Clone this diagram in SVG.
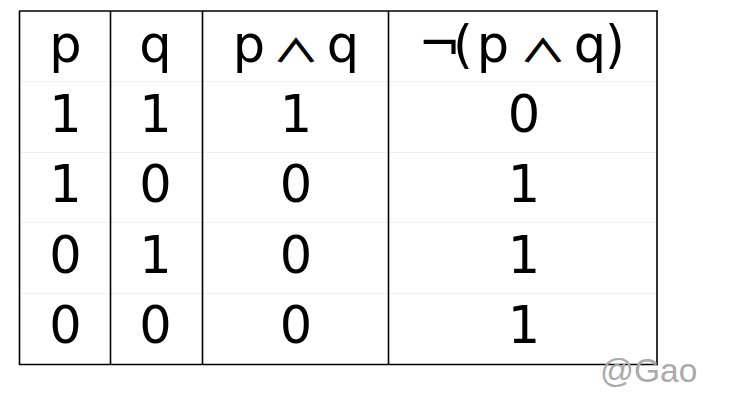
<svg xmlns="http://www.w3.org/2000/svg" width="736" height="411" viewBox="0 0 736 411">
<style>
.t{font-family:"DejaVu Sans",sans-serif;font-size:51px;fill:#000;text-anchor:middle}
.op{font-family:"Noto Sans CJK JP","DejaVu Sans",sans-serif;font-size:42px;fill:#000;stroke:#000;stroke-width:1.2;text-anchor:middle}
.rule{stroke:#000;stroke-width:1.6;fill:none}
.faint{stroke:#efefef;stroke-width:1}
.wm{font-family:"Liberation Sans",Arial,sans-serif;font-size:33.5px;fill:#aaaaaa}
</style>
<rect width="736" height="411" fill="#fff"/>
<g id="grid">
<line class="faint" x1="20" y1="81.5" x2="657" y2="81.5"/>
<line class="faint" x1="20" y1="152.5" x2="657" y2="152.5"/>
<line class="faint" x1="20" y1="222.5" x2="657" y2="222.5"/>
<line class="faint" x1="20" y1="293.5" x2="657" y2="293.5"/>
<line class="rule" x1="19" y1="11" x2="658" y2="11"/>
<line class="rule" x1="19" y1="364.5" x2="658" y2="364.5" stroke-width="2.2"/>
<line class="rule" x1="19.5" y1="11" x2="19.5" y2="365"/>
<line class="rule" x1="110.5" y1="11" x2="110.5" y2="365"/>
<line class="rule" x1="202.5" y1="11" x2="202.5" y2="365"/>
<line class="rule" x1="388.5" y1="11" x2="388.5" y2="365"/>
<line class="rule" x1="657" y1="11" x2="657" y2="365"/>
</g>
<g id="header">
<text class="t" x="65.5" y="62">p</text>
<text class="t" x="155.5" y="62">q</text>
<text class="t" y="62"><tspan x="249">p</tspan><tspan x="343">q</tspan></text>
<text class="op" transform="translate(296,62) scale(1.08,0.73)">∧</text>
<text class="t" y="62"><tspan x="439.5">¬</tspan><tspan x="463">(</tspan><tspan x="493">p</tspan><tspan x="590">q</tspan><tspan x="615">)</tspan></text>
<text class="op" transform="translate(543,62) scale(1.08,0.73)">∧</text>
</g>
<g id="row1">
<text class="t" x="65.5" y="131.5">1</text>
<text class="t" x="155.5" y="131.5">1</text>
<text class="t" x="296" y="131.5">1</text>
<text class="t" x="524" y="131.5">0</text>
</g>
<g id="row2">
<text class="t" x="65.5" y="202">1</text>
<text class="t" x="155.5" y="202">0</text>
<text class="t" x="296" y="202">0</text>
<text class="t" x="524" y="202">1</text>
</g>
<g id="row3">
<text class="t" x="65.5" y="272.5">0</text>
<text class="t" x="155.5" y="272.5">1</text>
<text class="t" x="296" y="272.5">0</text>
<text class="t" x="524" y="272.5">1</text>
</g>
<g id="row4">
<text class="t" x="65.5" y="343">0</text>
<text class="t" x="155.5" y="343">0</text>
<text class="t" x="296" y="343">0</text>
<text class="t" x="524" y="343">1</text>
</g>
<text class="wm" x="600" y="382">@Gao</text>
</svg>
